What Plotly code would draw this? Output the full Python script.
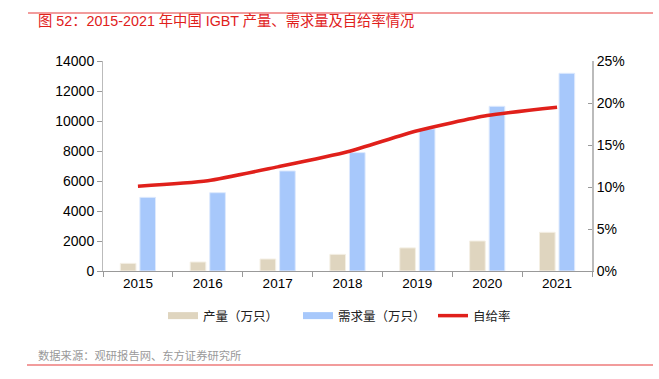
import plotly.graph_objects as go

years = ["2015", "2016", "2017", "2018", "2019", "2020", "2021"]
production = [510, 600, 800, 1110, 1540, 2000, 2580]
demand = [4910, 5220, 6670, 7890, 9470, 10980, 13180]
self_rate = [10.1, 10.75, 12.4, 14.2, 16.7, 18.5, 19.5]

W, H = 659, 379
L, R, T, B = 103, 592, 61, 271

def px(x):
    return (x - L) / (R - L)

def py(y):
    return (B - y) / (B - T)

font_family = "Liberation Sans, Arial, Noto Sans CJK SC, sans-serif"
prod_color = "#dfd5bf"
dem_color = "#a7c8fb"
rate_color = "#e0201b"

fig = go.Figure()
fig.add_trace(go.Bar(x=years, y=production, name="产量（万只）", showlegend=False,
                     marker=dict(color=prod_color, line=dict(color="#f4efe4", width=1))))
fig.add_trace(go.Bar(x=years, y=demand, name="需求量（万只）", showlegend=False,
                     marker=dict(color=dem_color, line=dict(color="#dde9fd", width=1))))
fig.add_trace(go.Scatter(x=years, y=self_rate, name="自给率", yaxis="y2", mode="lines", showlegend=False,
                         line=dict(color=rate_color, width=3.5, shape="spline", smoothing=0.6)))
# legend entries (wide rectangles like the reference)
fig.add_trace(go.Scatter(x=[None], y=[None], mode="lines", name="产量（万只）",
                         line=dict(color=prod_color, width=7)))
fig.add_trace(go.Scatter(x=[None], y=[None], mode="lines", name="需求量（万只）",
                         line=dict(color=dem_color, width=7)))
fig.add_trace(go.Scatter(x=[None], y=[None], mode="lines", name="自给率",
                         line=dict(color=rate_color, width=3.5)))

fig.update_layout(
    width=W, height=H,
    margin=dict(l=L, r=W - R, t=T, b=H - B),
    paper_bgcolor="white", plot_bgcolor="white",
    barmode="group", bargap=0.44, bargroupgap=0.2,
    font=dict(family=font_family, size=14, color="#000"),
    showlegend=True,
    legend=dict(orientation="h", x=px(163), y=py(316), xanchor="left", yanchor="middle",
                font=dict(size=12.5, color="#222"), itemwidth=30, traceorder="normal",
                entrywidth=90, bgcolor="rgba(0,0,0,0)"),
    xaxis=dict(type="category", showline=True, linecolor="#999", linewidth=1,
               ticks="outside", tickson="boundaries", ticklen=5, tickcolor="#999",
               showgrid=False, tickfont=dict(size=13.5)),
    yaxis=dict(range=[0, 14000], dtick=2000, tickformat="d", showline=True, linecolor="#bbb", linewidth=1,
               ticks="outside", ticklen=5, tickcolor="#999", showgrid=False, zeroline=False,
               tickfont=dict(size=14)),
    yaxis2=dict(range=[0, 25], dtick=5, ticksuffix="%", overlaying="y", side="right",
                showline=True, linecolor="#bbb", linewidth=2, ticks="inside", ticklen=4,
                tickcolor="#999", showgrid=False, zeroline=False, tickfont=dict(size=14)),
)

fig.add_annotation(xref="paper", yref="paper", x=px(36), y=py(21), xanchor="left", yanchor="middle",
                   text="图 52：2015-2021 年中国 IGBT 产量、需求量及自给率情况", showarrow=False,
                   font=dict(size=14.3, color=rate_color, family=font_family))
fig.add_annotation(xref="paper", yref="paper", x=px(36), y=py(355), xanchor="left", yanchor="middle",
                   text="数据来源：观研报告网、东方证券研究所", showarrow=False,
                   font=dict(size=11.3, color="#999", family=font_family))
fig.add_shape(type="line", xref="paper", yref="paper", x0=px(28), x1=px(653), y0=py(13), y1=py(13),
              line=dict(color="#ee7b7b", width=1.5))
fig.add_shape(type="line", xref="paper", yref="paper", x0=px(27), x1=px(653), y0=py(365), y1=py(365),
              line=dict(color="#ee7b7b", width=1.5))

fig.write_html("out.html", config={"displayModeBar": False},
               post_script="document.body.style.margin='0';")
